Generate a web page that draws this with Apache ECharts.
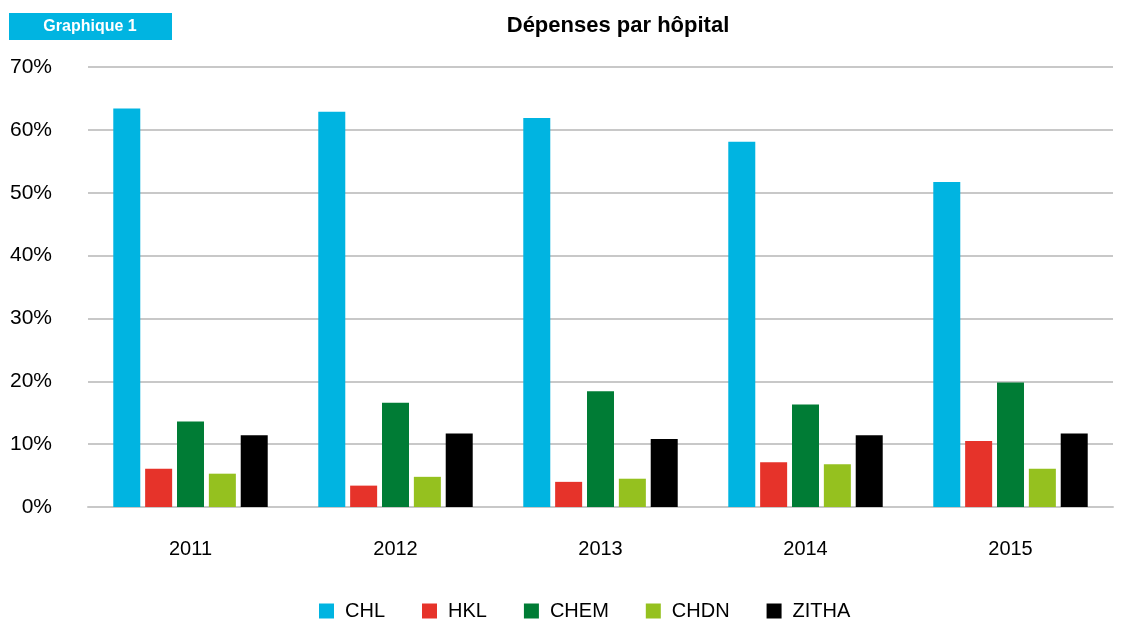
<!DOCTYPE html>
<html>
<head>
<meta charset="utf-8">
<script src="https://cdn.jsdelivr.net/npm/echarts@6/dist/echarts.min.js"></script>
<style>
    html, body { margin: 0; padding: 0; background: #fff; }
    #chart { width: 1126px; height: 620px; }
</style>
</head>
<body>
<div id="chart"></div>
<script>
const years = ['2011', '2012', '2013', '2014', '2015'];
const hospitals = ['CHL', 'HKL', 'CHEM', 'CHDN', 'ZITHA'];
const chl = [63.4, 62.9, 61.9, 58.1, 51.7];
const hkl = [6.1, 3.4, 4.0, 7.1, 10.5];
const chem = [13.6, 16.6, 18.4, 16.3, 19.8];
const chdn = [5.3, 4.8, 4.5, 6.8, 6.1];
const zitha = [11.4, 11.7, 10.8, 11.4, 11.7];
const colorConfig = ['#00B4E1', '#E6332A', '#007C35', '#95C11F', '#000000'];

const font = 'Liberation Sans, Arial, sans-serif';

//  柱子
const makeBar = function (name, data) {
    return {
        name: name,
        type: 'bar',
        data: data,
        barWidth: 27,
        barGap: '18%',
    };
};

const myChart = echarts.init(document.getElementById('chart'));
myChart.setOption({
    color: colorConfig,
    animation: false,
    textStyle: {fontFamily: font},
    title: {
        text: 'Dépenses par hôpital',
        left: 613,
        textAlign: 'center',
        top: 10,
        textStyle: {
            fontFamily: font,
            fontSize: 22,
            fontWeight: 'bold',
            color: '#000',
        },
    },
    //  左上角标签
    graphic: [
        {
            type: 'group',
            left: 9,
            top: 13,
            children: [
                {
                    type: 'rect',
                    shape: {x: 0, y: 0, width: 163, height: 27},
                    style: {fill: '#00B4E1'},
                },
                {
                    type: 'text',
                    x: 81,
                    y: 14,
                    style: {
                        text: 'Graphique 1',
                        fill: '#fff',
                        font: 'bold 16px ' + font,
                        textAlign: 'center',
                        textVerticalAlign: 'middle',
                    },
                },
            ],
        },
    ],
    legend: {
        data: hospitals,
        top: 601,
        left: 319,
        padding: 0,
        itemWidth: 15,
        itemHeight: 15,
        itemGap: 37,
        icon: 'rect',
        selectedMode: false,
        textStyle: {
            fontFamily: font,
            fontSize: 20,
            color: '#000',
            padding: [0, 0, 0, 6],
        },
    },
    grid: {
        left: 88,
        right: 13,
        top: 67,
        bottom: 113,
        containLabel: false,
    },
    xAxis: {
        type: 'category',
        data: years,
        axisLine: {lineStyle: {color: '#C8C8C8', width: 2}},
        axisTick: {show: false},
        axisLabel: {
            color: '#000',
            fontSize: 20,
            fontFamily: font,
            margin: 32,
        },
    },
    yAxis: {
        type: 'value',
        min: 0,
        max: 70,
        interval: 10,
        axisLine: {show: false},
        axisTick: {show: false},
        axisLabel: {
            color: '#000',
            fontSize: 21,
            fontFamily: font,
            margin: 36,
            formatter: function (value) {
                return `${value}%`;
            },
        },
        splitLine: {lineStyle: {color: '#C8C8C8', width: 2}},
    },
    series: [
        makeBar('CHL', chl),
        makeBar('HKL', hkl),
        makeBar('CHEM', chem),
        makeBar('CHDN', chdn),
        makeBar('ZITHA', zitha),
    ],
});
</script>
</body>
</html>
